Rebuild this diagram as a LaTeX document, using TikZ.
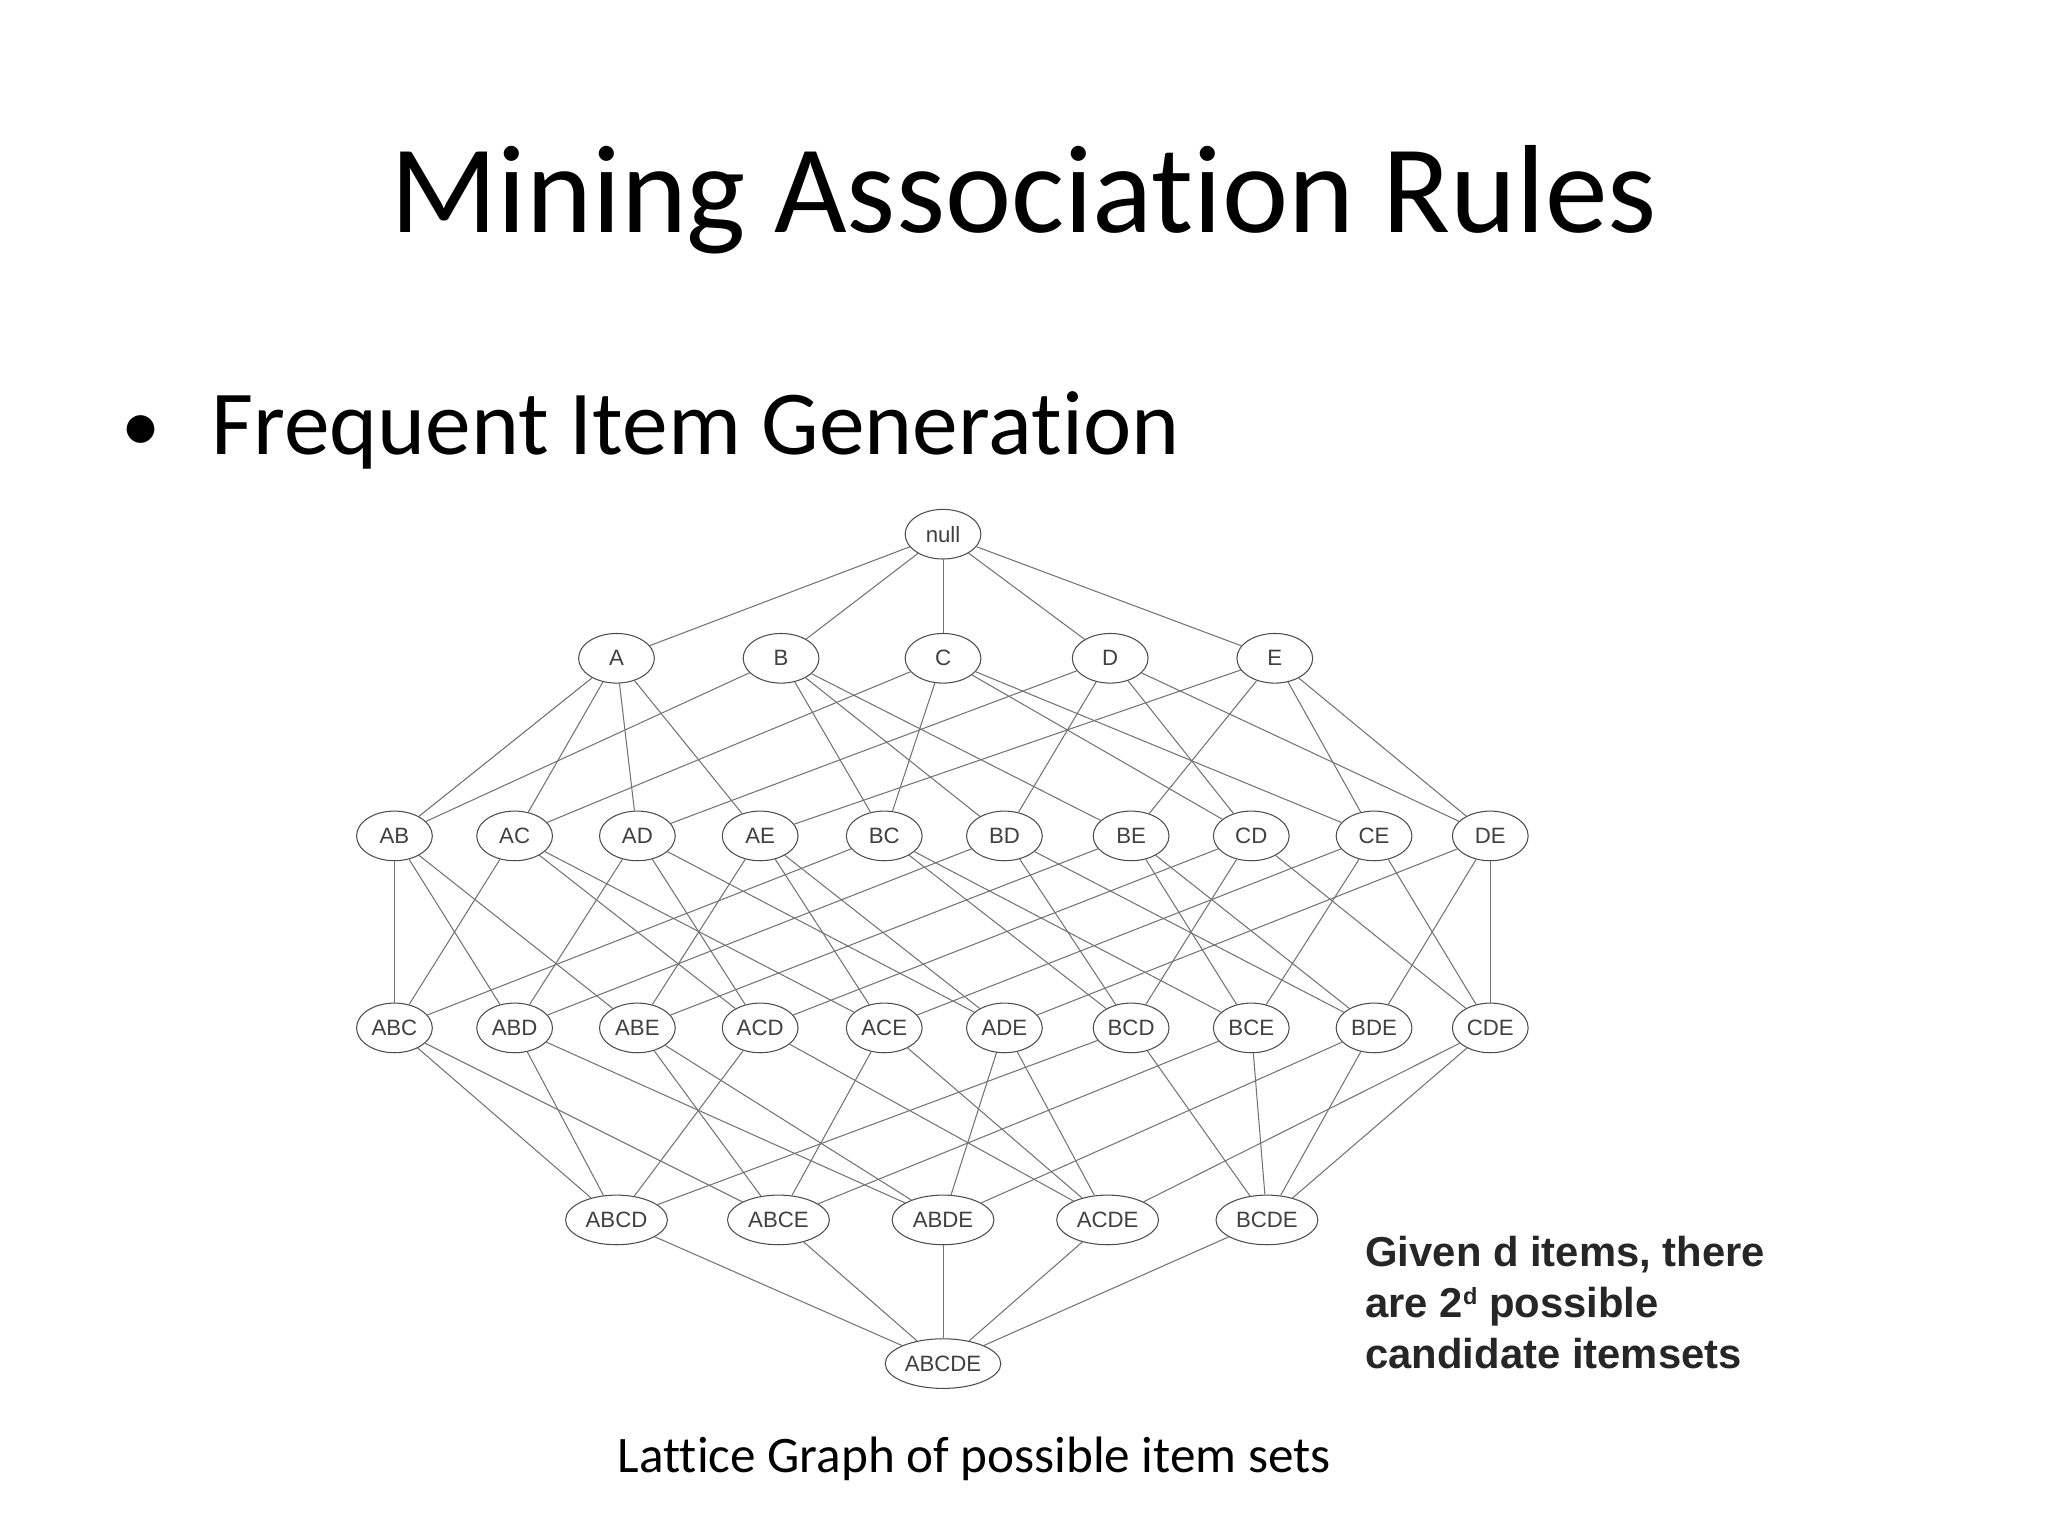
\documentclass[tikz,border=0pt]{standalone}
\usepackage{fontspec}
\setmainfont[Ligatures=NoCommon]{Carlito}
\newfontfamily\arialf{Liberation Sans}
\usetikzlibrary{shapes.geometric}
\begin{document}
\begin{tikzpicture}[x=0.5pt,y=-0.5pt,
  it/.style={ellipse,draw=black!70,line width=0.4pt,fill=white,inner sep=1pt,minimum width=29pt,minimum height=19pt,font=\arialf\fontsize{8.5}{9}\selectfont,text=black!75},
  itw/.style={it,minimum width=39pt},
  ed/.style={draw=black!55,line width=0.4pt}]
\useasboundingbox (0,0) rectangle (1568,1176);
\node[font=\fontsize{48}{56}\selectfont,anchor=base] (title) at (784,178) {Mining Association Rules};
\node[font=\fontsize{35}{40}\selectfont,anchor=base west] (bul) at (155,348) {Frequent Item Generation};
\node[font=\fontsize{30}{40}\selectfont,anchor=base] (dot) at (108,346) {\textbullet};
\node[it] (null) at (722,409) {null};
\foreach \n/\x in {A/472,B/598,C/722,D/850,E/976} \node[it] (\n) at (\x,504) {\n};
\foreach \n/\x in {AB/302,AC/394,AD/488,AE/582,BC/677,BD/769,BE/866,CD/958,CE/1052,DE/1141} \node[it] (\n) at (\x,640) {\n};
\foreach \n/\x in {ABC/302,ABD/394,ABE/488,ACD/582,ACE/677,ADE/769,BCD/866,BCE/958,BDE/1052,CDE/1141} \node[it] (\n) at (\x,787) {\n};
\foreach \n/\x in {ABCD/472,ABCE/596,ABDE/722,ACDE/848,BCDE/970} \node[itw] (\n) at (\x,934) {\n};
\node[itw] (ABCDE) at (722,1044) {ABCDE};
\foreach \a in {A,B,C,D,E} \draw[ed] (null) -- (\a);
\foreach \a/\b/\c in {AB/A/B,AC/A/C,AD/A/D,AE/A/E,BC/B/C,BD/B/D,BE/B/E,CD/C/D,CE/C/E,DE/D/E} {\draw[ed] (\a) -- (\b); \draw[ed] (\a) -- (\c);}
\foreach \a/\b/\c/\d in {ABC/AB/AC/BC,ABD/AB/AD/BD,ABE/AB/AE/BE,ACD/AC/AD/CD,ACE/AC/AE/CE,ADE/AD/AE/DE,BCD/BC/BD/CD,BCE/BC/BE/CE,BDE/BD/BE/DE,CDE/CD/CE/DE} {\draw[ed] (\a) -- (\b); \draw[ed] (\a) -- (\c); \draw[ed] (\a) -- (\d);}
\foreach \a/\b/\c/\d/\e in {ABCD/ABC/ABD/ACD/BCD,ABCE/ABC/ABE/ACE/BCE,ABDE/ABD/ABE/ADE/BDE,ACDE/ACD/ACE/ADE/CDE,BCDE/BCD/BCE/BDE/CDE} {\draw[ed] (\a) -- (\b); \draw[ed] (\a) -- (\c); \draw[ed] (\a) -- (\d); \draw[ed] (\a) -- (\e);}
\foreach \a in {ABCD,ABCE,ABDE,ACDE,BCDE} \draw[ed] (ABCDE) -- (\a);
\node[anchor=north west,align=left,font=\arialf\bfseries\fontsize{16}{19.5}\selectfont,text=black!85,inner sep=0pt] (side) at (1045,946) {Given d items, there\\are 2{\fontsize{9}{9}\selectfont\raisebox{5pt}{d}} possible\\candidate itemsets};
\node[font=\fontsize{19.6}{22}\selectfont] (cap) at (746,1117) {Lattice Graph of possible item sets};
\end{tikzpicture}
\end{document}
